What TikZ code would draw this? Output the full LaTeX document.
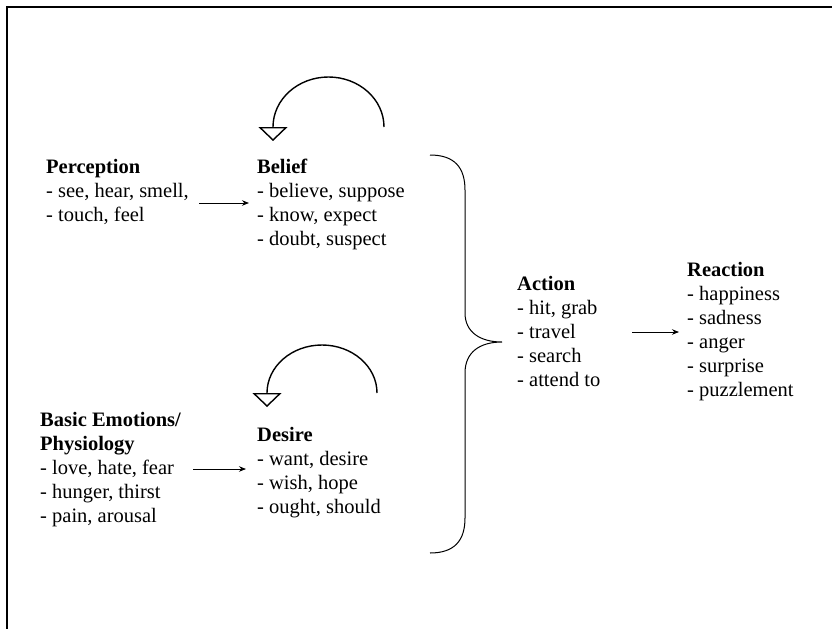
\documentclass[tikz,border=0pt]{standalone}
\usepackage{fontspec}
\setmainfont{Liberation Serif}
\usetikzlibrary{arrows.meta}
% one text line of a stacked block
\newcommand\itemline[1]{\hbox{#1}}
\newcommand\stack[1]{\vtop{\baselineskip=24pt\lineskiplimit=-10pt #1}}
\tikzset{
  block/.style={anchor=base west, inner sep=0pt, font=\fontsize{20.5}{24}\selectfont},
  link/.style={line width=0.9pt, -{Stealth[length=7pt,width=5.5pt]}},
  selfloop/.style={line width=1.4pt, -{Triangle[open,length=14pt,width=29pt]}},
  bracket/.style={line width=1pt},
  frameline/.style={line width=1.8pt}
}
\begin{document}
\begin{tikzpicture}[x=1pt,y=-1pt]
\useasboundingbox (0,0) rectangle (832,629);
\fill[white] (0,0) rectangle (832,629);

% frame (top and left edges)
\coordinate (ftl) at (7,7);
\coordinate (ftr) at (832,7);
\coordinate (fbl) at (7,629);
\draw[frameline] (ftr) -- (ftl) -- (fbl);

% text blocks
\node[block] (perc) at (46,173) {\stack{\itemline{\textbf{Perception}}\itemline{- see, hear, smell,}\itemline{- touch, feel}}};
\node[block] (belief) at (257,173) {\stack{\itemline{\textbf{Belief}}\itemline{- believe, suppose}\itemline{- know, expect}\itemline{- doubt, suspect}}};
\node[block] (emo) at (40,426) {\stack{\itemline{\textbf{Basic Emotions/}}\itemline{\textbf{Physiology}}\itemline{- love, hate, fear}\itemline{- hunger, thirst}\itemline{- pain, arousal}}};
\node[block] (desire) at (257,441) {\stack{\itemline{\textbf{Desire}}\itemline{- want, desire}\itemline{- wish, hope}\itemline{- ought, should}}};
\node[block] (action) at (517,290) {\stack{\itemline{\textbf{Action}}\itemline{- hit, grab}\itemline{- travel}\itemline{- search}\itemline{- attend to}}};
\node[block] (reaction) at (687,276) {\stack{\itemline{\textbf{Reaction}}\itemline{- happiness}\itemline{- sadness}\itemline{- anger}\itemline{- surprise}\itemline{- puzzlement}}};

% straight arrows
\coordinate (percout) at (199,203);
\coordinate (beliefin) at (249,203);
\coordinate (emoout) at (193,469);
\coordinate (desirein) at (246,469);
\coordinate (actout) at (632,332);
\coordinate (reactin) at (679,332);
\draw[link] (percout) -- (beliefin);
\draw[link] (emoout) -- (desirein);
\draw[link] (actout) -- (reactin);

% self loops above Belief and Desire
\coordinate (bloopstart) at (384,127);
\coordinate (dloopstart) at (377,393);
\draw[selfloop] (bloopstart) arc[start angle=0, end angle=-180, x radius=55.5, y radius=50] -- ++(0,14);
\draw[selfloop] (dloopstart) arc[start angle=0, end angle=-180, x radius=55, y radius=48] -- ++(0,14);

% brace gathering Belief and Desire into Action
\coordinate (btop) at (430,155);
\coordinate (btip) at (502,342);
\coordinate (bbot) at (430,553);
\draw[bracket] (btop) .. controls (455,155) and (465,168) .. (465,190)
  -- (465,313) .. controls (465,332) and (480,342) .. (btip)
  .. controls (480,342) and (465,352) .. (465,373)
  -- (465,518) .. controls (465,540) and (455,553) .. (bbot);
\end{tikzpicture}
\end{document}
